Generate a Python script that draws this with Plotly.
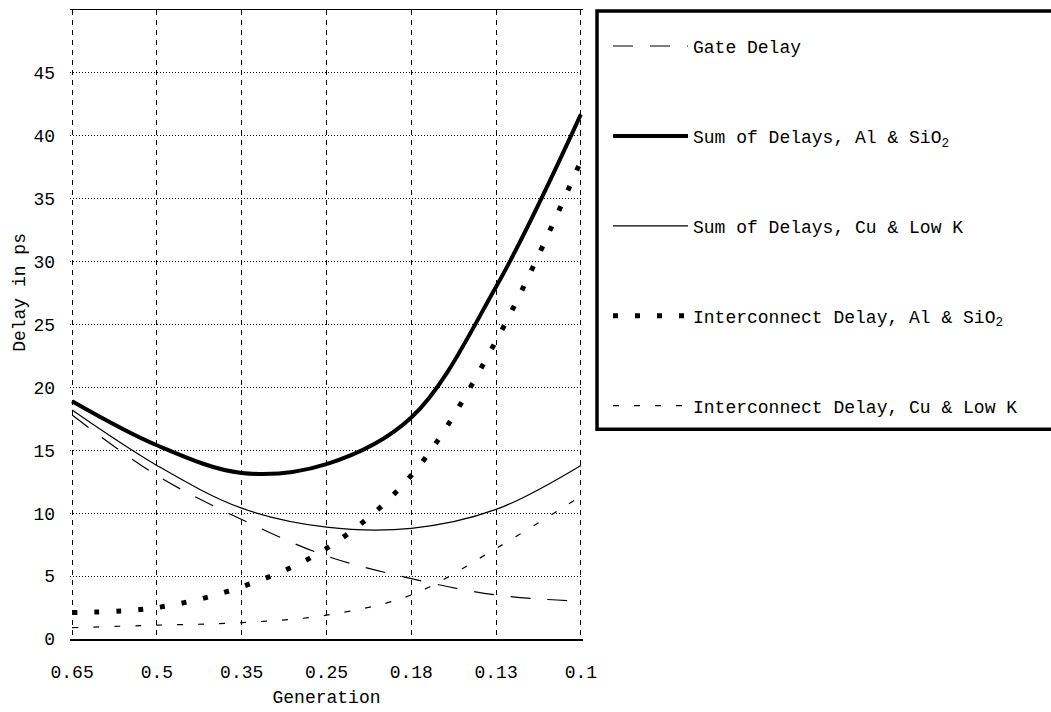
import plotly.graph_objects as go

# ---- data ----
generations = ["0.65", "0.5", "0.35", "0.25", "0.18", "0.13", "0.1"]
gate_delay = [17.8, 13.0, 9.5, 6.6, 4.8, 3.5, 3.0]
sum_al_sio2 = [18.9, 15.4, 13.2, 13.9, 17.6, 28.0, 41.7]
sum_cu_lowk = [18.2, 13.8, 10.4, 8.9, 8.8, 10.3, 13.8]
inter_al_sio2 = [2.1, 2.5, 4.15, 7.2, 13.0, 23.7, 38.0]
inter_cu_lowk = [0.9, 1.1, 1.3, 1.9, 3.5, 7.2, 11.35]
y_tick_values = [0, 5, 10, 15, 20, 25, 30, 35, 40, 45]

FONT = "Liberation Mono, Courier New, monospace"
W, H = 1051, 712
ML, MR, MT, MB = 70, 468, 8, 68
PW = W - ML - MR
PH = H - MT - MB
XPAD = 0.025  # keeps the edge grid lines drawable


def px_x(p):
    return (p - ML) / PW


def px_y(p):
    return (H - MB - p) / PH


series = [
    ("Gate Delay", gate_delay, dict(color="black", width=1.2, dash="20px,17px")),
    ("Sum of Delays, Al & SiO<sub>2</sub>", sum_al_sio2, dict(color="black", width=4)),
    ("Sum of Delays, Cu & Low K", sum_cu_lowk, dict(color="black", width=1.2)),
    ("Interconnect Delay, Al & SiO<sub>2</sub>", inter_al_sio2, dict(color="black", width=5, dash="5px,17px")),
    ("Interconnect Delay, Cu & Low K", inter_cu_lowk, dict(color="black", width=1.2, dash="6px,15px")),
]

fig = go.Figure()
for i, (name, vals, line) in enumerate(series):
    fig.add_trace(go.Scatter(
        x=generations, y=vals, name=name, mode="lines",
        line=dict(shape="spline", smoothing=1.0, **line),
        legendgroup=f"g{i}",
        hoverinfo="skip",
    ))

fig.update_layout(
    width=W, height=H,
    margin=dict(l=ML, r=MR, t=MT, b=MB),
    paper_bgcolor="white", plot_bgcolor="white",
    font=dict(family=FONT, size=18, color="black"),
    showlegend=True,
    legend=dict(
        x=px_x(608), xanchor="left",
        y=px_y(26), yanchor="top",
        bgcolor="rgba(0,0,0,0)", borderwidth=0,
        font=dict(family=FONT, size=18, color="black"),
        tracegroupgap=63.5, itemwidth=75,
        traceorder="grouped",
    ),
    xaxis=dict(
        type="category", range=[-XPAD, 6 + XPAD],
        showgrid=True, gridcolor="black", gridwidth=1, griddash="5px,5px",
        showline=True, linecolor="black", linewidth=1.5, mirror=True,
        ticks="", ticklabelstandoff=16,
        tickfont=dict(family=FONT, size=18),
        title=dict(text="Generation", font=dict(family=FONT, size=18), standoff=8),
        zeroline=False,
    ),
    yaxis=dict(
        range=[0, 50], tickmode="array", tickvals=y_tick_values,
        showgrid=True, gridcolor="black", gridwidth=1, griddash="1px,2px",
        showline=False, zeroline=False,
        ticks="", ticklabelstandoff=14,
        tickfont=dict(family=FONT, size=18),
    ),
    annotations=[dict(
        text="Delay in ps", textangle=-90, showarrow=False,
        xref="paper", yref="paper", x=px_x(20), y=px_y(294),
        xanchor="center", yanchor="middle",
        font=dict(family=FONT, size=18),
    )],
    shapes=[dict(
        type="rect", xref="paper", yref="paper",
        x0=px_x(597), x1=px_x(1070), y0=px_y(432), y1=px_y(9),
        line=dict(color="black", width=3.5), fillcolor="rgba(0,0,0,0)",
        layer="above",
    )],
)

fig.write_html(
    "out.html",
    config={"displayModeBar": False, "staticPlot": True},
    post_script="document.body.style.margin='0';document.body.style.overflow='hidden';",
)
